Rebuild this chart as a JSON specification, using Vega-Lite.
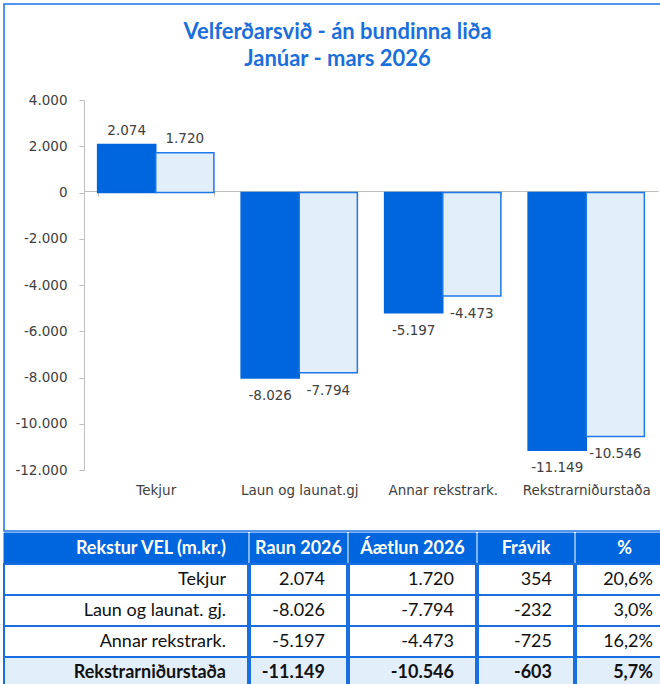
{
  "$schema": "https://vega.github.io/schema/vega-lite/v6.json",
  "background": "white",
  "padding": {"left": 3, "top": 3, "right": 0, "bottom": 0},
  "spacing": 0,
  "config": {
    "locale": {"number": {"decimal": ",", "thousands": ".", "grouping": [3], "currency": ["", " kr."], "minus": "-"}},
    "view": {"stroke": null}
  },
  "datasets": {
    "stolpar": [
      {"flokkur": "Tekjur", "tegund": "Raun 2026", "gildi": 2074},
      {"flokkur": "Tekjur", "tegund": "Áætlun 2026", "gildi": 1720},
      {"flokkur": "Laun og launat.gj", "tegund": "Raun 2026", "gildi": -8026},
      {"flokkur": "Laun og launat.gj", "tegund": "Áætlun 2026", "gildi": -7794},
      {"flokkur": "Annar rekstrark.", "tegund": "Raun 2026", "gildi": -5197},
      {"flokkur": "Annar rekstrark.", "tegund": "Áætlun 2026", "gildi": -4473},
      {"flokkur": "Rekstrarniðurstaða", "tegund": "Raun 2026", "gildi": -11149},
      {"flokkur": "Rekstrarniðurstaða", "tegund": "Áætlun 2026", "gildi": -10546}
    ],
    "hausar": [
      {"dalkur": "lidur", "heiti": "Rekstur VEL (m.kr.)"},
      {"dalkur": "raun", "heiti": "Raun 2026"},
      {"dalkur": "aaetlun", "heiti": "Áætlun 2026"},
      {"dalkur": "fravik", "heiti": "Frávik"},
      {"dalkur": "hlutfall", "heiti": "%"}
    ],
    "tafla": [
      {"rod": 1, "lidur": "Tekjur", "raun": 2074, "aaetlun": 1720, "fravik": 354, "hlutfall": 0.206, "gerd": "venjuleg"},
      {"rod": 2, "lidur": "Laun og launat. gj.", "raun": -8026, "aaetlun": -7794, "fravik": -232, "hlutfall": 0.030, "gerd": "venjuleg"},
      {"rod": 3, "lidur": "Annar rekstrark.", "raun": -5197, "aaetlun": -4473, "fravik": -725, "hlutfall": 0.162, "gerd": "venjuleg"},
      {"rod": 4, "lidur": "Rekstrarniðurstaða", "raun": -11149, "aaetlun": -10546, "fravik": -603, "hlutfall": 0.057, "gerd": "samtala"}
    ]
  },
  "resolve": {"scale": {"fill": "independent", "stroke": "independent"}},
  "vconcat": [
    {
      "width": 667,
      "height": 527,
      "view": {"stroke": "#1A73E8", "strokeWidth": 1.5},
      "title": {
        "text": ["Velferðarsvið - án bundinna liða", "Janúar - mars 2026"],
        "font": "Lato", "fontSize": 22, "fontWeight": "bold", "color": "#1A6FDC",
        "anchor": "middle", "frame": "group", "offset": -67, "lineHeight": 27
      },
      "data": {"name": "stolpar"},
      "encoding": {
        "x": {
          "field": "flokkur", "type": "nominal",
          "sort": ["Tekjur", "Laun og launat.gj", "Annar rekstrark.", "Rekstrarniðurstaða"],
          "scale": {"range": [80, 654], "paddingInner": 0.19, "paddingOuter": 0.095},
          "axis": {
            "orient": "bottom", "offset": -340, "title": null, "labelAngle": 0,
            "tickBand": "extent", "tickSize": 5, "tickColor": "#BFBFBF", "domainColor": "#BFBFBF",
            "labelPadding": 287, "labelFont": "DejaVu Sans", "labelFontSize": 13.5, "labelColor": "#404040"
          }
        },
        "xOffset": {
          "field": "tegund", "type": "nominal", "sort": ["Raun 2026", "Áætlun 2026"],
          "scale": {"paddingInner": 0, "paddingOuter": 0}
        },
        "y": {
          "field": "gildi", "type": "quantitative",
          "scale": {"domain": [-12000, 4000], "range": [466, 96], "nice": false, "zero": false},
          "axis": {
            "orient": "left", "offset": -80, "title": null, "grid": false,
            "values": [-12000, -10000, -8000, -6000, -4000, -2000, 0, 2000, 4000],
            "format": ",d", "tickSize": 5, "tickColor": "#BFBFBF", "domainColor": "#BFBFBF",
            "labelPadding": 12, "labelFont": "DejaVu Sans", "labelFontSize": 13.5, "labelColor": "#404040"
          }
        }
      },
      "layer": [
        {
          "mark": {"type": "bar", "strokeWidth": 1.5},
          "encoding": {
            "fill": {"field": "tegund", "type": "nominal", "scale": {"domain": ["Raun 2026", "Áætlun 2026"], "range": ["#0066DD", "#E3EEFB"]}, "legend": null},
            "stroke": {"field": "tegund", "type": "nominal", "scale": {"domain": ["Raun 2026", "Áætlun 2026"], "range": ["#0066DD", "#1F78E8"]}, "legend": null}
          }
        },
        {
          "transform": [{"filter": "datum.gildi >= 0"}],
          "mark": {"type": "text", "baseline": "bottom", "dy": -7, "font": "DejaVu Sans", "fontSize": 13.5, "color": "#404040"},
          "encoding": {"text": {"field": "gildi", "type": "quantitative", "format": ",d"}}
        },
        {
          "transform": [{"filter": "datum.gildi < 0"}],
          "mark": {"type": "text", "baseline": "top", "dy": 11, "font": "DejaVu Sans", "fontSize": 13.5, "color": "#404040"},
          "encoding": {"text": {"field": "gildi", "type": "quantitative", "format": ",d"}}
        }
      ]
    },
    {
      "spacing": 0,
      "hconcat": [
        {
          "width": 244, "height": 155,
          "layer": [
            {"data": {"name": "hausar"}, "transform": [{"filter": "datum.dalkur == 'lidur'"}],
             "mark": {"type": "rect", "fill": "#0066DD", "stroke": "#0066DD", "strokeWidth": 1},
             "encoding": {"y": {"datum": 0, "type": "ordinal", "scale": {"domain": [0, 1, 2, 3, 4], "paddingInner": 0, "paddingOuter": 0}, "axis": null}}},
            {"data": {"name": "hausar"}, "transform": [{"filter": "datum.dalkur == 'lidur'"}],
             "mark": {"type": "text", "align": "right", "dx": -22, "font": "Lato", "fontSize": 18, "fontWeight": "bold", "color": "#FFFFFF"},
             "encoding": {"x": {"value": "width"}, "y": {"datum": 0, "type": "ordinal"}, "text": {"field": "heiti", "type": "nominal"}}},
            {"data": {"name": "tafla"}, "transform": [{"filter": "datum.gerd == 'venjuleg'"}],
             "mark": {"type": "rect", "fill": "#FFFFFF", "stroke": "#1A6FE0", "strokeWidth": 2},
             "encoding": {"y": {"field": "rod", "type": "ordinal"}}},
            {"data": {"name": "tafla"}, "transform": [{"filter": "datum.gerd == 'samtala'"}],
             "mark": {"type": "rect", "fill": "#E3EEFB", "stroke": "#1A6FE0", "strokeWidth": 2},
             "encoding": {"y": {"field": "rod", "type": "ordinal"}}},
            {"data": {"name": "tafla"}, "transform": [{"filter": "datum.gerd == 'venjuleg'"}],
             "mark": {"type": "text", "align": "right", "dx": -22, "font": "Lato", "fontSize": 18, "color": "#111111"},
             "encoding": {"x": {"value": "width"}, "y": {"field": "rod", "type": "ordinal"}, "text": {"field": "lidur", "type": "nominal"}}},
            {"data": {"name": "tafla"}, "transform": [{"filter": "datum.gerd == 'samtala'"}],
             "mark": {"type": "text", "align": "right", "dx": -22, "font": "Lato", "fontSize": 18, "fontWeight": "bold", "color": "#111111"},
             "encoding": {"x": {"value": "width"}, "y": {"field": "rod", "type": "ordinal"}, "text": {"field": "lidur", "type": "nominal"}}}
          ]
        },
        {
          "width": 97, "height": 155,
          "layer": [
            {"data": {"name": "hausar"}, "transform": [{"filter": "datum.dalkur == 'raun'"}],
             "mark": {"type": "rect", "fill": "#0066DD", "stroke": "#0066DD", "strokeWidth": 1},
             "encoding": {"y": {"datum": 0, "type": "ordinal", "scale": {"domain": [0, 1, 2, 3, 4], "paddingInner": 0, "paddingOuter": 0}, "axis": null}}},
            {"data": {"name": "hausar"}, "transform": [{"filter": "datum.dalkur == 'raun'"}],
             "mark": {"type": "text", "font": "Lato", "fontSize": 18, "fontWeight": "bold", "color": "#FFFFFF"},
             "encoding": {"y": {"datum": 0, "type": "ordinal"}, "text": {"field": "heiti", "type": "nominal"}}},
            {"data": {"name": "tafla"}, "transform": [{"filter": "datum.gerd == 'venjuleg'"}],
             "mark": {"type": "rect", "fill": "#FFFFFF", "stroke": "#1A6FE0", "strokeWidth": 2},
             "encoding": {"y": {"field": "rod", "type": "ordinal"}}},
            {"data": {"name": "tafla"}, "transform": [{"filter": "datum.gerd == 'samtala'"}],
             "mark": {"type": "rect", "fill": "#E3EEFB", "stroke": "#1A6FE0", "strokeWidth": 2},
             "encoding": {"y": {"field": "rod", "type": "ordinal"}}},
            {"data": {"name": "tafla"}, "transform": [{"filter": "datum.gerd == 'venjuleg'"}],
             "mark": {"type": "text", "align": "right", "dx": -22, "font": "Lato", "fontSize": 18, "color": "#111111"},
             "encoding": {"x": {"value": "width"}, "y": {"field": "rod", "type": "ordinal"}, "text": {"field": "raun", "type": "quantitative", "format": ",d"}}},
            {"data": {"name": "tafla"}, "transform": [{"filter": "datum.gerd == 'samtala'"}],
             "mark": {"type": "text", "align": "right", "dx": -22, "font": "Lato", "fontSize": 18, "fontWeight": "bold", "color": "#111111"},
             "encoding": {"x": {"value": "width"}, "y": {"field": "rod", "type": "ordinal"}, "text": {"field": "raun", "type": "quantitative", "format": ",d"}}}
          ]
        },
        {
          "width": 127, "height": 155,
          "layer": [
            {"data": {"name": "hausar"}, "transform": [{"filter": "datum.dalkur == 'aaetlun'"}],
             "mark": {"type": "rect", "fill": "#0066DD", "stroke": "#0066DD", "strokeWidth": 1},
             "encoding": {"y": {"datum": 0, "type": "ordinal", "scale": {"domain": [0, 1, 2, 3, 4], "paddingInner": 0, "paddingOuter": 0}, "axis": null}}},
            {"data": {"name": "hausar"}, "transform": [{"filter": "datum.dalkur == 'aaetlun'"}],
             "mark": {"type": "text", "font": "Lato", "fontSize": 18, "fontWeight": "bold", "color": "#FFFFFF"},
             "encoding": {"y": {"datum": 0, "type": "ordinal"}, "text": {"field": "heiti", "type": "nominal"}}},
            {"data": {"name": "tafla"}, "transform": [{"filter": "datum.gerd == 'venjuleg'"}],
             "mark": {"type": "rect", "fill": "#FFFFFF", "stroke": "#1A6FE0", "strokeWidth": 2},
             "encoding": {"y": {"field": "rod", "type": "ordinal"}}},
            {"data": {"name": "tafla"}, "transform": [{"filter": "datum.gerd == 'samtala'"}],
             "mark": {"type": "rect", "fill": "#E3EEFB", "stroke": "#1A6FE0", "strokeWidth": 2},
             "encoding": {"y": {"field": "rod", "type": "ordinal"}}},
            {"data": {"name": "tafla"}, "transform": [{"filter": "datum.gerd == 'venjuleg'"}],
             "mark": {"type": "text", "align": "right", "dx": -22, "font": "Lato", "fontSize": 18, "color": "#111111"},
             "encoding": {"x": {"value": "width"}, "y": {"field": "rod", "type": "ordinal"}, "text": {"field": "aaetlun", "type": "quantitative", "format": ",d"}}},
            {"data": {"name": "tafla"}, "transform": [{"filter": "datum.gerd == 'samtala'"}],
             "mark": {"type": "text", "align": "right", "dx": -22, "font": "Lato", "fontSize": 18, "fontWeight": "bold", "color": "#111111"},
             "encoding": {"x": {"value": "width"}, "y": {"field": "rod", "type": "ordinal"}, "text": {"field": "aaetlun", "type": "quantitative", "format": ",d"}}}
          ]
        },
        {
          "width": 96, "height": 155,
          "layer": [
            {"data": {"name": "hausar"}, "transform": [{"filter": "datum.dalkur == 'fravik'"}],
             "mark": {"type": "rect", "fill": "#0066DD", "stroke": "#0066DD", "strokeWidth": 1},
             "encoding": {"y": {"datum": 0, "type": "ordinal", "scale": {"domain": [0, 1, 2, 3, 4], "paddingInner": 0, "paddingOuter": 0}, "axis": null}}},
            {"data": {"name": "hausar"}, "transform": [{"filter": "datum.dalkur == 'fravik'"}],
             "mark": {"type": "text", "font": "Lato", "fontSize": 18, "fontWeight": "bold", "color": "#FFFFFF"},
             "encoding": {"y": {"datum": 0, "type": "ordinal"}, "text": {"field": "heiti", "type": "nominal"}}},
            {"data": {"name": "tafla"}, "transform": [{"filter": "datum.gerd == 'venjuleg'"}],
             "mark": {"type": "rect", "fill": "#FFFFFF", "stroke": "#1A6FE0", "strokeWidth": 2},
             "encoding": {"y": {"field": "rod", "type": "ordinal"}}},
            {"data": {"name": "tafla"}, "transform": [{"filter": "datum.gerd == 'samtala'"}],
             "mark": {"type": "rect", "fill": "#E3EEFB", "stroke": "#1A6FE0", "strokeWidth": 2},
             "encoding": {"y": {"field": "rod", "type": "ordinal"}}},
            {"data": {"name": "tafla"}, "transform": [{"filter": "datum.gerd == 'venjuleg'"}],
             "mark": {"type": "text", "align": "right", "dx": -22, "font": "Lato", "fontSize": 18, "color": "#111111"},
             "encoding": {"x": {"value": "width"}, "y": {"field": "rod", "type": "ordinal"}, "text": {"field": "fravik", "type": "quantitative", "format": ",d"}}},
            {"data": {"name": "tafla"}, "transform": [{"filter": "datum.gerd == 'samtala'"}],
             "mark": {"type": "text", "align": "right", "dx": -22, "font": "Lato", "fontSize": 18, "fontWeight": "bold", "color": "#111111"},
             "encoding": {"x": {"value": "width"}, "y": {"field": "rod", "type": "ordinal"}, "text": {"field": "fravik", "type": "quantitative", "format": ",d"}}}
          ]
        },
        {
          "width": 97, "height": 155,
          "layer": [
            {"data": {"name": "hausar"}, "transform": [{"filter": "datum.dalkur == 'hlutfall'"}],
             "mark": {"type": "rect", "fill": "#0066DD", "stroke": "#0066DD", "strokeWidth": 1},
             "encoding": {"y": {"datum": 0, "type": "ordinal", "scale": {"domain": [0, 1, 2, 3, 4], "paddingInner": 0, "paddingOuter": 0}, "axis": null}}},
            {"data": {"name": "hausar"}, "transform": [{"filter": "datum.dalkur == 'hlutfall'"}],
             "mark": {"type": "text", "font": "Lato", "fontSize": 18, "fontWeight": "bold", "color": "#FFFFFF"},
             "encoding": {"y": {"datum": 0, "type": "ordinal"}, "text": {"field": "heiti", "type": "nominal"}}},
            {"data": {"name": "tafla"}, "transform": [{"filter": "datum.gerd == 'venjuleg'"}],
             "mark": {"type": "rect", "fill": "#FFFFFF", "stroke": "#1A6FE0", "strokeWidth": 2},
             "encoding": {"y": {"field": "rod", "type": "ordinal"}}},
            {"data": {"name": "tafla"}, "transform": [{"filter": "datum.gerd == 'samtala'"}],
             "mark": {"type": "rect", "fill": "#E3EEFB", "stroke": "#1A6FE0", "strokeWidth": 2},
             "encoding": {"y": {"field": "rod", "type": "ordinal"}}},
            {"data": {"name": "tafla"}, "transform": [{"filter": "datum.gerd == 'venjuleg'"}],
             "mark": {"type": "text", "align": "right", "dx": -20, "font": "Lato", "fontSize": 18, "color": "#111111"},
             "encoding": {"x": {"value": "width"}, "y": {"field": "rod", "type": "ordinal"}, "text": {"field": "hlutfall", "type": "quantitative", "format": ".1%"}}},
            {"data": {"name": "tafla"}, "transform": [{"filter": "datum.gerd == 'samtala'"}],
             "mark": {"type": "text", "align": "right", "dx": -20, "font": "Lato", "fontSize": 18, "fontWeight": "bold", "color": "#111111"},
             "encoding": {"x": {"value": "width"}, "y": {"field": "rod", "type": "ordinal"}, "text": {"field": "hlutfall", "type": "quantitative", "format": ".1%"}}}
          ]
        }
      ]
    }
  ]
}
